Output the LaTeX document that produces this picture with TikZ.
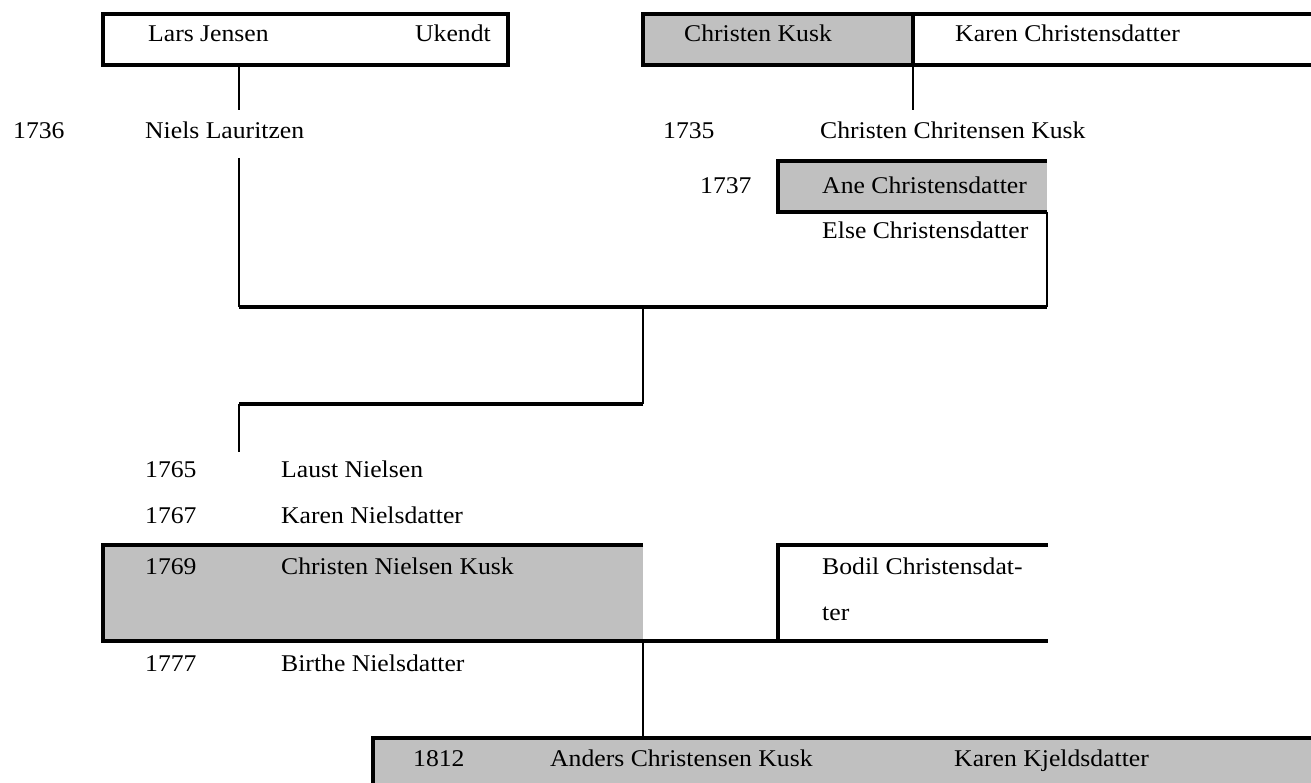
\documentclass[tikz,border=0pt]{standalone}
\usepackage{fontspec}
\setmainfont{Liberation Serif}[FakeStretch=1.07]
\definecolor{boxgray}{RGB}{192,192,192}
\begin{document}
\begin{tikzpicture}[x=1pt,y=-1pt,
  lbl/.style={anchor=base west,inner sep=0pt,font=\fontsize{24}{28}\selectfont},
  gfill/.style={fill=boxgray,draw=none,inner sep=0pt,outer sep=0pt},
  bord/.style={line width=4pt,line join=miter},
  conn/.style={line width=2.2pt}]
\useasboundingbox (0,0) rectangle (1311,783);
% grey fills
\node[gfill,minimum width=270pt,minimum height=51pt] (ckbox) at (778,39.5) {};
\node[gfill,minimum width=269pt,minimum height=51pt] (anebox) at (912.5,186.5) {};
\node[gfill,minimum width=540pt,minimum height=96pt] (cnkbox) at (373,593) {};
\node[gfill,minimum width=938pt,minimum height=45pt] (ackbox) at (842,760.5) {};
% Lars Jensen box
\node[draw,line width=4pt,inner sep=0pt,minimum width=405pt,minimum height=51pt] (ljbox) at (305.5,39.5) {};
% Christen Kusk / Karen box
\draw[bord] (1311,14) -- (643,14) -- (643,65) -- (1311,65);
\draw[bord] (913,14) -- (913,65);
% Ane box
\draw[bord] (1047,161) -- (778,161) -- (778,212) -- (1047,212);
% Christen Nielsen Kusk / Bodil
\draw[bord] (643,545) -- (103,545) -- (103,641) -- (1048,641);
\draw[bord] (1048,545) -- (778,545) -- (778,641);
% Anders box
\draw[bord] (1311,738) -- (373,738) -- (373,783);
% texts
\node[lbl] (lj) at (148,42) {Lars Jensen};
\node[lbl] (uk) at (415,42) {Ukendt};
\node[lbl] (ck) at (684,42) {Christen Kusk};
\node[lbl] (kc) at (955,42) {Karen Christensdatter};
\node[lbl] (y1736) at (13,139) {1736};
\node[lbl] (nl) at (145,139) {Niels Lauritzen};
\node[lbl] (y1735) at (663,139) {1735};
\node[lbl] (cck) at (820,139) {Christen Chritensen Kusk};
\node[lbl] (y1737) at (700,194) {1737};
\node[lbl] (ane) at (822,194) {Ane Christensdatter};
\node[lbl] (else) at (822,239) {Else Christensdatter};
\node[lbl] (y1765) at (145,477) {1765};
\node[lbl] (ln) at (281,477) {Laust Nielsen};
\node[lbl] (y1767) at (145,523) {1767};
\node[lbl] (kn) at (281,523) {Karen Nielsdatter};
\node[lbl] (y1769) at (145,574) {1769};
\node[lbl] (cnk) at (281,574) {Christen Nielsen Kusk};
\node[lbl] (bodil) at (822,574) {Bodil Christensdat-};
\node[lbl] (bodil2) at (822,620) {ter};
\node[lbl] (y1777) at (145,671) {1777};
\node[lbl] (bn) at (281,671) {Birthe Nielsdatter};
\node[lbl] (y1812) at (413,766) {1812};
\node[lbl] (ack) at (550,766) {Anders Christensen Kusk};
\node[lbl] (kk) at (954,766) {Karen Kjeldsdatter};
% connector coordinates
\coordinate (ljdown) at (239,65);
\coordinate (ljend) at (239,110);
\coordinate (ckdown) at (913,65);
\coordinate (ckend) at (913,110);
\coordinate (nlstart) at (239,158);
\coordinate (nlcorner) at (239,307);
\coordinate (elsetop) at (1047,212);
\coordinate (elsecorner) at (1047,307);
\coordinate (mid1) at (643,307);
\coordinate (mid2) at (643,404);
\coordinate (kidcorner) at (239,404);
\coordinate (kidend) at (239,452);
\coordinate (mid3) at (643,641);
\coordinate (mid4) at (643,738);
% connectors
\draw[conn] (ljdown) -- (ljend);
\draw[conn] (ckdown) -- (ckend);
\draw[conn] (nlstart) -- (nlcorner);
\draw[conn] (elsetop) -- (elsecorner);
\draw[bord] (nlcorner) -- (elsecorner);
\draw[conn] (mid1) -- (mid2);
\draw[bord] (mid2) -- (kidcorner);
\draw[conn] (kidcorner) -- (kidend);
\draw[conn] (mid3) -- (mid4);
\end{tikzpicture}
\end{document}
